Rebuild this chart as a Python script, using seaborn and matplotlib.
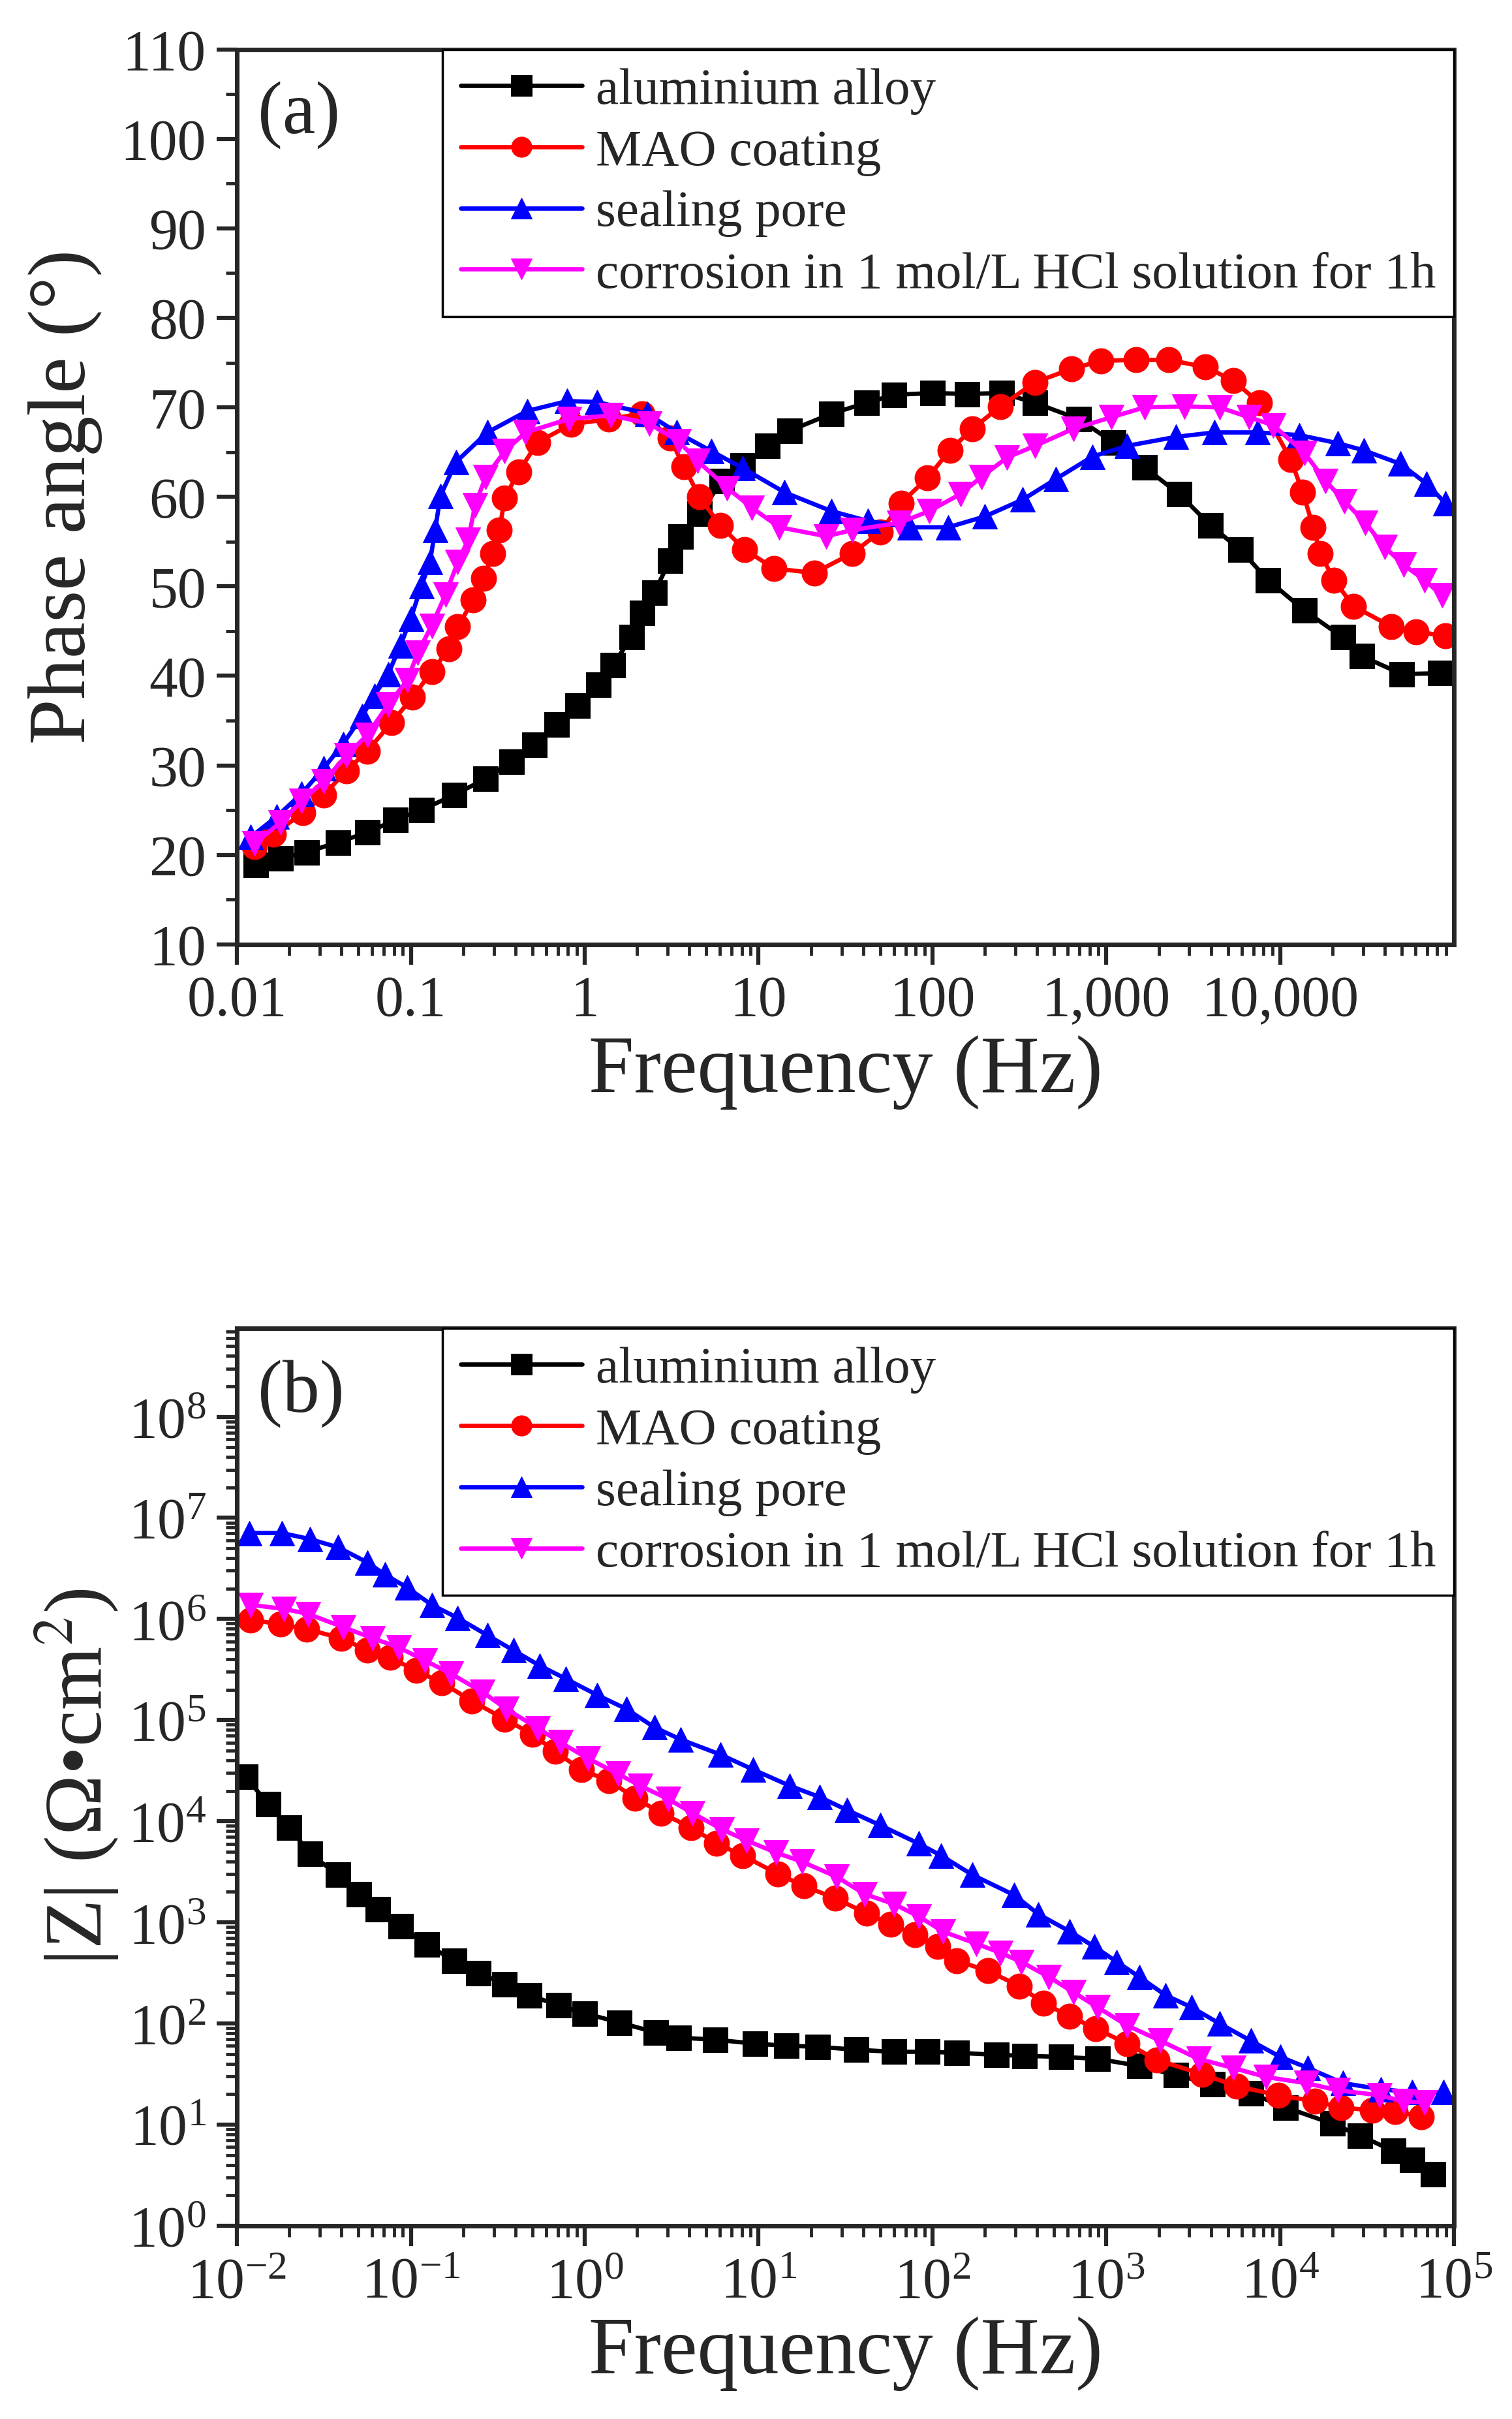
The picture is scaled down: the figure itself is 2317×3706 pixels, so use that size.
import numpy as np
import pandas as pd
import matplotlib
matplotlib.use("Agg")
import matplotlib.pyplot as plt
import seaborn as sns
from matplotlib.ticker import FixedLocator, FixedFormatter, MultipleLocator, LogLocator, LogFormatterMathtext, NullFormatter

# values, frequency kept as log10(Hz)
# (a) phase angle
logf_al_a = [-1.89, -1.75, -1.60, -1.42, -1.25, -1.09, -0.94, -0.75, -0.57, -0.42, -0.29, -0.16, -0.04, 0.08, 0.16,
             0.27, 0.33, 0.40, 0.49, 0.55, 0.66, 0.79, 0.91, 1.05, 1.18, 1.42, 1.62, 1.78, 2.00, 2.20, 2.40, 2.59,
             2.84, 3.04, 3.22, 3.42, 3.60, 3.77, 3.93, 4.14, 4.36, 4.47, 4.70, 4.92]
ph_al = [18.9, 19.6, 20.3, 21.4, 22.5, 23.9, 25.0, 26.7, 28.5, 30.4, 32.3, 34.6, 36.7, 39.0, 41.2,
         44.3, 47.0, 49.3, 52.9, 55.6, 58.1, 61.8, 63.5, 65.7, 67.4, 69.3, 70.5, 71.4, 71.6, 71.5, 71.6, 70.5,
         68.7, 66.1, 63.3, 60.3, 56.8, 54.1, 50.7, 47.3, 44.3, 42.2, 40.2, 40.3]

logf_mao_a = [-1.90, -1.79, -1.62, -1.50, -1.37, -1.25, -1.11, -0.99, -0.88, -0.78, -0.73, -0.64, -0.58, -0.53, -0.49,
              -0.46, -0.38, -0.27, -0.08, 0.14, 0.33, 0.49, 0.57, 0.66, 0.78, 0.92, 1.09, 1.32, 1.54, 1.70, 1.82,
              1.97, 2.10, 2.23, 2.39, 2.59, 2.80, 2.97, 3.17, 3.36, 3.57, 3.73, 3.88, 4.06, 4.13, 4.19, 4.23, 4.31,
              4.42, 4.64, 4.78, 4.95]
ph_mao = [20.9, 22.3, 24.7, 26.7, 29.4, 31.6, 34.8, 37.6, 40.5, 43.0, 45.5, 48.5, 50.9, 53.7, 56.3,
          59.9, 62.8, 66.1, 68.1, 68.7, 69.3, 66.6, 63.4, 60.0, 56.8, 54.1, 52.0, 51.5, 53.7, 56.1, 59.3,
          62.1, 65.2, 67.6, 70.1, 72.8, 74.3, 75.2, 75.3, 75.3, 74.5, 73.0, 70.5, 64.2, 60.5, 56.6, 53.7, 50.7,
          47.8, 45.5, 44.9, 44.5]

logf_seal_a = [-1.92, -1.77, -1.63, -1.50, -1.39, -1.28, -1.21, -1.13, -1.06, -1.00, -0.94, -0.89, -0.86, -0.83,
               -0.74, -0.56, -0.33, -0.10, 0.07, 0.36, 0.53, 0.73, 0.91, 1.15, 1.42, 1.63, 1.87, 2.09, 2.30, 2.52,
               2.71, 2.92, 3.12, 3.40, 3.62, 3.87, 4.11, 4.33, 4.48, 4.69, 4.84, 4.95]
ph_seal = [22.0, 24.3, 26.8, 29.7, 32.4, 35.5, 37.8, 40.2, 43.4, 46.4, 50.0, 52.7, 56.3, 60.1,
           63.9, 67.2, 69.6, 70.7, 70.6, 69.3, 67.2, 65.1, 63.2, 60.5, 58.4, 57.3, 56.6, 56.6, 57.8, 59.7,
           62.0, 64.5, 65.7, 66.7, 67.2, 67.2, 66.9, 66.0, 65.2, 63.7, 61.5, 59.3]

logf_hcl_a = [-1.90, -1.75, -1.63, -1.50, -1.37, -1.25, -1.13, -1.02, -0.96, -0.88, -0.80, -0.73, -0.67, -0.63,
              -0.57, -0.46, -0.34, -0.09, 0.15, 0.37, 0.54, 0.65, 0.82, 0.96, 1.12, 1.39, 1.54, 1.81, 1.98, 2.16,
              2.28, 2.43, 2.59, 2.81, 3.03, 3.22, 3.45, 3.65, 3.82, 3.96, 4.14, 4.26, 4.37, 4.49, 4.60, 4.71,
              4.83, 4.93]
ph_hcl = [21.3, 23.6, 26.0, 28.2, 31.1, 33.4, 36.8, 39.5, 42.6, 45.6, 49.1, 52.7, 55.2, 59.1,
          62.2, 65.1, 67.2, 68.7, 69.1, 68.2, 66.2, 64.0, 61.0, 58.8, 56.6, 55.6, 56.3, 57.1, 58.4, 60.3,
          62.2, 64.4, 65.7, 67.6, 68.9, 70.0, 70.1, 70.0, 68.9, 68.0, 64.9, 61.8, 59.5, 57.1, 54.4, 52.4,
          50.7, 49.0]

# (b) impedance modulus, log10(|Z|)
logf_al_b = [-1.95, -1.82, -1.70, -1.58, -1.42, -1.30, -1.19, -1.06, -0.91, -0.75, -0.61, -0.46, -0.32, -0.15,
             0.00, 0.20, 0.41, 0.54, 0.75, 0.98, 1.16, 1.34, 1.56, 1.78, 1.97, 2.14, 2.37, 2.53, 2.74, 2.95, 3.19,
             3.40, 3.61, 3.83, 4.03, 4.30, 4.46, 4.65, 4.76, 4.88]
logz_al = [4.44, 4.17, 3.94, 3.68, 3.47, 3.28, 3.13, 2.96, 2.78, 2.62, 2.50, 2.39, 2.28, 2.18,
           2.10, 2.01, 1.91, 1.86, 1.84, 1.80, 1.78, 1.77, 1.74, 1.72, 1.72, 1.71, 1.69, 1.68, 1.67, 1.65, 1.58,
           1.49, 1.40, 1.31, 1.17, 1.01, 0.89, 0.74, 0.65, 0.51]

logf_mao_b = [-1.92, -1.75, -1.60, -1.40, -1.25, -1.12, -0.97, -0.82, -0.65, -0.46, -0.30, -0.17, -0.02, 0.14,
              0.29, 0.44, 0.61, 0.76, 0.91, 1.11, 1.26, 1.44, 1.62, 1.76, 1.90, 2.03, 2.14, 2.32, 2.50, 2.64, 2.79,
              2.94, 3.12, 3.29, 3.55, 3.75, 3.99, 4.20, 4.35, 4.53, 4.66, 4.81]
logz_mao = [5.99, 5.95, 5.90, 5.81, 5.69, 5.62, 5.49, 5.37, 5.19, 5.01, 4.86, 4.69, 4.51, 4.40,
            4.23, 4.08, 3.94, 3.78, 3.66, 3.48, 3.36, 3.24, 3.09, 2.98, 2.88, 2.76, 2.62, 2.52, 2.37, 2.20, 2.07,
            1.95, 1.80, 1.64, 1.50, 1.38, 1.29, 1.23, 1.17, 1.14, 1.13, 1.08]

logf_seal_b = [-1.93, -1.74, -1.58, -1.42, -1.25, -1.15, -1.02, -0.88, -0.73, -0.56, -0.41, -0.26, -0.11, 0.07,
               0.24, 0.40, 0.55, 0.78, 0.97, 1.18, 1.35, 1.51, 1.70, 1.92, 2.05, 2.23, 2.47, 2.61, 2.79, 2.93,
               3.06, 3.19, 3.34, 3.49, 3.65, 3.83, 4.00, 4.16, 4.36, 4.58, 4.76, 4.94]
logz_seal = [6.85, 6.85, 6.79, 6.71, 6.56, 6.44, 6.31, 6.14, 6.01, 5.84, 5.69, 5.54, 5.41, 5.25,
             5.11, 4.93, 4.81, 4.66, 4.51, 4.35, 4.24, 4.11, 3.96, 3.78, 3.66, 3.47, 3.27, 3.08, 2.91, 2.76,
             2.61, 2.46, 2.28, 2.16, 2.00, 1.83, 1.67, 1.56, 1.41, 1.35, 1.32, 1.32]

logf_hcl_b = [-1.92, -1.73, -1.59, -1.39, -1.22, -1.07, -0.92, -0.77, -0.59, -0.45, -0.27, -0.14, 0.02, 0.19,
              0.32, 0.48, 0.62, 0.79, 0.93, 1.10, 1.25, 1.45, 1.61, 1.78, 1.92, 2.06, 2.25, 2.39, 2.51, 2.67,
              2.81, 2.95, 3.12, 3.31, 3.53, 3.73, 3.92, 4.15, 4.33, 4.57, 4.71, 4.83]
logz_hcl = [6.14, 6.10, 6.05, 5.92, 5.81, 5.72, 5.59, 5.46, 5.28, 5.11, 4.92, 4.78, 4.62, 4.47,
            4.35, 4.22, 4.08, 3.92, 3.81, 3.69, 3.60, 3.45, 3.28, 3.18, 3.06, 2.91, 2.79, 2.70, 2.61, 2.46,
            2.31, 2.16, 1.98, 1.83, 1.65, 1.56, 1.47, 1.41, 1.34, 1.29, 1.23, 1.22]

labels = ["aluminium alloy", "MAO coating", "sealing pore", "corrosion in 1 mol/L HCl solution for 1h"]
colors = ["black", "red", "blue", "magenta"]
markers = ["s", "o", "^", "v"]
xtick_a = [0.01, 0.1, 1, 10, 100, 1000, 10000]
xtick_a_labels = ["0.01", "0.1", "1", "10", "100", "1,000", "10,000"]

sns.set_style("ticks")
plt.rcParams["font.family"] = ["Liberation Serif", "DejaVu Serif"]
plt.rcParams["mathtext.fontset"] = "stix"

fig = plt.figure(figsize=(23.17, 37.06), dpi=100)
ax1 = fig.add_axes([0.1567, 0.6096, 0.805, 0.370])
ax2 = fig.add_axes([0.1567, 0.0799, 0.805, 0.371])

set_a = [(logf_al_a, ph_al), (logf_mao_a, ph_mao), (logf_seal_a, ph_seal), (logf_hcl_a, ph_hcl)]
set_b = [(logf_al_b, logz_al), (logf_mao_b, logz_mao), (logf_seal_b, logz_seal), (logf_hcl_b, logz_hcl)]

for i in range(4):
    fa, pa = set_a[i]
    sns.lineplot(x=10 ** np.array(fa), y=pa, ax=ax1, color=colors[i], marker=markers[i], markersize=28,
                 markeredgecolor=colors[i], linewidth=4.8, label=labels[i])
    fb, zb = set_b[i]
    sns.lineplot(x=10 ** np.array(fb), y=10 ** np.array(zb), ax=ax2, color=colors[i], marker=markers[i],
                 markersize=28, markeredgecolor=colors[i], linewidth=4.8, label=labels[i])

for ax in (ax1, ax2):
    ax.set_xscale("log")
    ax.set_xlim(0.01, 1e5)
    for s in ax.spines.values():
        s.set_linewidth(5)
        s.set_visible(True)
    ax.tick_params(which="major", direction="out", length=22, width=4.5, labelsize=63, pad=12)
    ax.tick_params(which="minor", direction="out", length=12, width=3.5)
    ax.xaxis.set_minor_locator(LogLocator(base=10, subs=np.arange(2, 10), numticks=20))
    ax.xaxis.set_minor_formatter(NullFormatter())
    ax.set_xlabel("Frequency (Hz)", fontsize=90, labelpad=8)
    leg = ax.legend(loc="upper right", fontsize=57, frameon=True, fancybox=False, edgecolor="black",
                    borderaxespad=0, handlelength=2.35, handletextpad=0.27, labelspacing=0.27, borderpad=0.35,
                    markerscale=0.8)
    leg.get_frame().set_linewidth(2.5)
    leg.get_frame().set_alpha(1)

ax1.set_ylim(10, 110)
ax1.xaxis.set_major_locator(FixedLocator(xtick_a))
ax1.xaxis.set_major_formatter(FixedFormatter(xtick_a_labels))
ax1.yaxis.set_major_locator(MultipleLocator(10))
ax1.yaxis.set_minor_locator(MultipleLocator(5))
ax1.set_ylabel("Phase angle (°)", fontsize=90, labelpad=20)
ax1.text(0.017, 0.965, "(a)", transform=ax1.transAxes, fontsize=82, va="top", ha="left")

ax2.set_yscale("log")
ax2.set_ylim(1, 7.5e8)
ax2.xaxis.set_major_locator(LogLocator(base=10, numticks=20))
ax2.xaxis.set_major_formatter(LogFormatterMathtext())
ax2.yaxis.set_major_locator(LogLocator(base=10, numticks=20))
ax2.yaxis.set_major_formatter(LogFormatterMathtext())
ax2.yaxis.set_minor_locator(LogLocator(base=10, subs=np.arange(2, 10), numticks=20))
ax2.yaxis.set_minor_formatter(NullFormatter())
ax2.set_ylabel("|Z| (Ω•cm$^{2}$)", fontsize=90, labelpad=8)
ax2.text(0.017, 0.965, "(b)", transform=ax2.transAxes, fontsize=82, va="top", ha="left")

fig.savefig("out.png", dpi=100)
